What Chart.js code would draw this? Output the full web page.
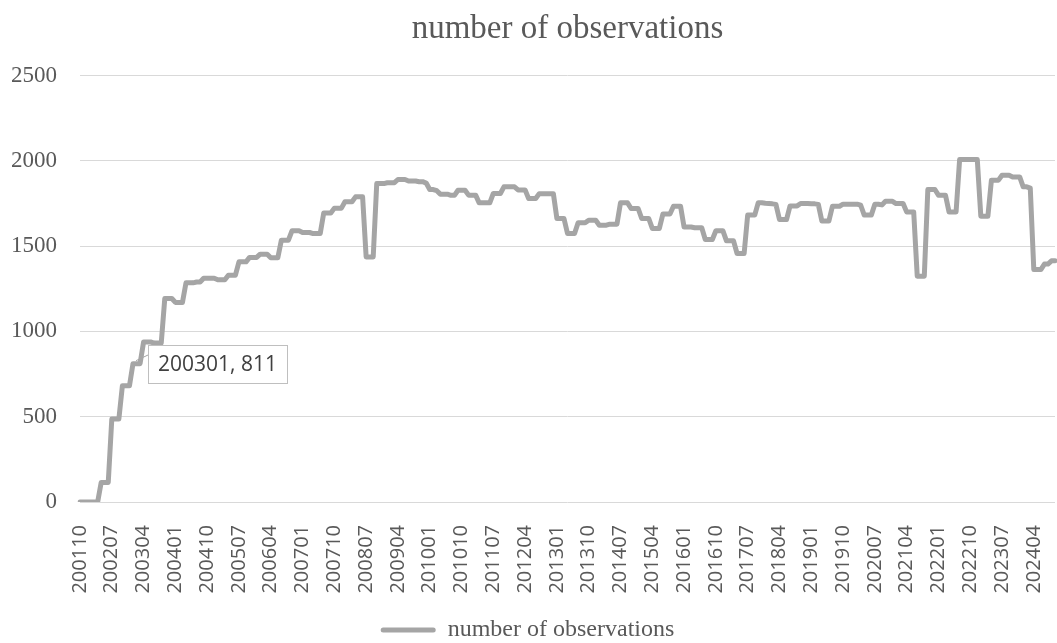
<!DOCTYPE html>
<html>
<head>
<meta charset="utf-8">
<script src="https://cdn.jsdelivr.net/npm/chart.js"></script>
<style>
    html, body { margin: 0; padding: 0; background: #fff; }
    #wrap { width: 1057px; height: 643px; }
</style>
</head>
<body>
<div id="wrap"><canvas id="myChart" width="1057" height="643"></canvas></div>
<script>
// series starts in Oct 2001, one value per month
var firstYear = 2001;
var firstMonth = 10;
var labelEvery = 9;
var seriesName = 'number of observations';
var yMin = 0, yMax = 2500, yStep = 500;
var calloutIndex = 15; // 200301

var observations = [
    // 2001 (Oct-Dec)
    0, 0, 0,
    // 2002
    0, 0, 0, 115, 115, 115, 486, 486, 486, 681, 681, 681,
    // 2003
    811, 811, 811, 938, 938, 938, 932, 932, 932, 1193, 1193, 1193,
    // 2004
    1170, 1170, 1170, 1285, 1285, 1285, 1290, 1290, 1312, 1312, 1312, 1312,
    // 2005
    1303, 1303, 1303, 1330, 1330, 1330, 1408, 1408, 1408, 1434, 1434, 1434,
    // 2006
    1453, 1453, 1453, 1432, 1432, 1432, 1535, 1535, 1535, 1590, 1590, 1590,
    // 2007
    1580, 1580, 1580, 1574, 1574, 1574, 1695, 1695, 1695, 1723, 1723, 1723,
    // 2008
    1760, 1760, 1760, 1789, 1789, 1789, 1437, 1437, 1437, 1867, 1867, 1867,
    // 2009
    1872, 1872, 1872, 1891, 1891, 1891, 1882, 1882, 1882, 1878, 1878, 1870,
    // 2010
    1832, 1832, 1825, 1805, 1805, 1805, 1798, 1798, 1828, 1828, 1828, 1799,
    // 2011
    1799, 1799, 1754, 1754, 1754, 1754, 1809, 1809, 1809, 1848, 1848, 1848,
    // 2012
    1848, 1830, 1830, 1830, 1779, 1779, 1779, 1808, 1808, 1808, 1808, 1808,
    // 2013
    1662, 1662, 1662, 1574, 1574, 1574, 1637, 1637, 1637, 1652, 1652, 1652,
    // 2014
    1623, 1623, 1623, 1629, 1629, 1629, 1754, 1754, 1754, 1721, 1721, 1721,
    // 2015
    1662, 1662, 1662, 1604, 1604, 1604, 1688, 1688, 1688, 1734, 1734, 1734,
    // 2016
    1612, 1612, 1612, 1608, 1608, 1608, 1539, 1539, 1539, 1590, 1590, 1590,
    // 2017
    1531, 1531, 1531, 1457, 1457, 1457, 1682, 1682, 1682, 1755, 1755, 1752,
    // 2018
    1750, 1748, 1745, 1656, 1656, 1656, 1736, 1736, 1736, 1750, 1750, 1750,
    // 2019
    1748, 1748, 1745, 1648, 1648, 1648, 1734, 1734, 1734, 1746, 1746, 1746,
    // 2020
    1746, 1746, 1740, 1682, 1682, 1682, 1746, 1746, 1742, 1763, 1763, 1763,
    // 2021
    1750, 1750, 1750, 1701, 1701, 1701, 1324, 1324, 1324, 1832, 1832, 1832,
    // 2022
    1799, 1799, 1799, 1701, 1701, 1701, 2008, 2008, 2008, 2008, 2008, 2008,
    // 2023
    1676, 1676, 1676, 1887, 1887, 1887, 1916, 1916, 1916, 1906, 1906, 1906,
    // 2024 (Jan-Oct)
    1848, 1848, 1840, 1363, 1363, 1363, 1395, 1395, 1414, 1414
];

// category labels like 200110, 200111 ...
var months = [];
(function() {
    var y = firstYear, m = firstMonth;
    for (var i = 0; i < observations.length; i++) {
        months.push(String(y) + (m < 10 ? '0' + m : String(m)));
        m++;
        if (m > 12) { m = 1; y++; }
    }
})();

var gray = '#A5A5A5';
var textGray = '#595959';

// the single data label with its leader line
var callout = {
    id: 'callout',
    afterDatasetsDraw: function(chart) {
        var pt = chart.getDatasetMeta(0).data[calloutIndex];
        var ctx = chart.ctx;
        var text = months[calloutIndex] + ', ' + observations[calloutIndex];
        ctx.save();
        ctx.font = '21px "Open Sans"';
        var w = Math.round(ctx.measureText(text).width + 20);
        var h = 38;
        var bx = Math.round(pt.x + 15);
        var by = Math.round(pt.y - h / 2);
        ctx.strokeStyle = gray;
        ctx.lineWidth = 1;
        ctx.beginPath();
        ctx.moveTo(pt.x + 3, pt.y - 3);
        ctx.lineTo(bx, by + 10);
        ctx.stroke();
        ctx.fillStyle = '#fff';
        ctx.fillRect(bx, by, w, h);
        ctx.strokeStyle = '#BFBFBF';
        ctx.strokeRect(bx + 0.5, by + 0.5, w, h);
        ctx.fillStyle = '#404040';
        ctx.textBaseline = 'middle';
        ctx.fillText(text, bx + 10, by + h / 2 + 1);
        ctx.restore();
    }
};

var ctx = document.getElementById('myChart');
var chart = new Chart(ctx, {
    type: 'line',
    data: {
        labels: months,
        datasets: [{
            label: seriesName,
            data: observations,
            borderColor: gray,
            backgroundColor: gray,
            borderWidth: 5,
            pointRadius: 0,
            tension: 0,
            borderJoinStyle: 'round',
            borderCapStyle: 'round'
        }]
    },
    options: {
        responsive: false,
        animation: false,
        devicePixelRatio: 1,
        events: [],
        layout: { padding: { top: 0, left: 0, right: 2, bottom: -9 } },
        plugins: {
            tooltip: { enabled: false },
            title: {
                display: true,
                text: seriesName,
                fullSize: false,
                color: textGray,
                font: { family: 'Liberation Serif', size: 33, weight: 'normal' },
                padding: { top: 10, bottom: 26 }
            },
            legend: {
                position: 'bottom',
                labels: {
                    color: textGray,
                    font: { family: 'Liberation Serif', size: 24 },
                    boxWidth: 55,
                    boxHeight: 5,
                    generateLabels: function(chart) {
                        var items = Chart.defaults.plugins.legend.labels.generateLabels(chart);
                        items.forEach(function(it) {
                            it.lineWidth = 0;
                            it.borderRadius = 2.5;
                        });
                        return items;
                    }
                }
            }
        },
        scales: {
            x: {
                offset: false,
                grid: { display: false },
                border: { display: false },
                ticks: {
                    autoSkip: false,
                    minRotation: 90,
                    maxRotation: 90,
                    padding: 15,
                    color: textGray,
                    font: { family: 'Open Sans', size: 20 },
                    callback: function(val, i) {
                        return i % labelEvery === 0 ? this.getLabelForValue(val) : '';
                    }
                },
                afterFit: function(scale) {
                    scale.height = 106;
                    scale.paddingLeft = 0;
                    scale.paddingRight = 0;
                }
            },
            y: {
                min: yMin,
                max: yMax,
                grid: { color: '#D9D9D9', lineWidth: 1, drawTicks: false },
                border: { display: false },
                ticks: {
                    stepSize: yStep,
                    padding: 23,
                    color: textGray,
                    font: { family: 'Liberation Serif', size: 23 },
                    callback: function(val) { return String(val); }
                },
                afterFit: function(scale) {
                    scale.width = 80;
                }
            }
        }
    },
    plugins: [callout]
});
</script>
</body>
</html>
